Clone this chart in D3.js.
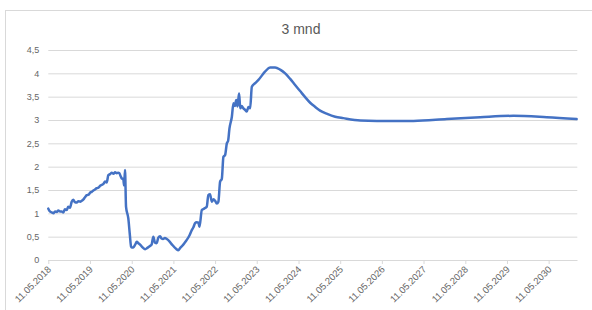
<!DOCTYPE html>
<html>
<head>
<meta charset="utf-8">
<script src="https://cdn.jsdelivr.net/npm/d3@7"></script>
<style>
    body { margin: 0; background: #fff; }
    svg { display: block; font-family: "Liberation Sans", Arial, sans-serif; }
</style>
</head>
<body>
<svg id="chart" width="592" height="310"></svg>
<script>
    // 3 mnd rente, historikk + forward
    var dates = [
        "2018-05-11", "2018-05-25", "2018-06-10", "2018-06-25", "2018-07-09", "2018-07-24",
        "2018-08-07", "2018-08-22", "2018-09-05", "2018-09-20", "2018-10-04", "2018-10-19",
        "2018-11-02", "2018-11-17", "2018-12-02", "2018-12-16", "2018-12-30", "2019-01-15",
        "2019-01-30", "2019-02-14", "2019-02-28", "2019-03-15", "2019-03-30", "2019-04-13",
        "2019-04-28", "2019-05-12", "2019-05-26", "2019-06-10", "2019-06-24", "2019-07-09",
        "2019-07-24", "2019-08-08", "2019-08-22", "2019-09-06", "2019-09-20", "2019-10-05",
        "2019-10-19", "2019-11-03", "2019-11-18", "2019-12-03", "2019-12-17", "2020-01-01",
        "2020-01-14", "2020-01-23", "2020-02-03", "2020-02-13", "2020-02-27", "2020-03-05",
        "2020-03-13", "2020-03-22", "2020-04-11", "2020-04-24", "2020-05-05", "2020-05-11",
        "2020-05-25", "2020-06-10", "2020-06-24", "2020-07-08", "2020-07-23", "2020-08-14",
        "2020-09-05", "2020-09-25", "2020-10-18", "2020-11-01", "2020-11-16", "2020-12-01",
        "2020-12-15", "2020-12-30", "2021-01-14", "2021-01-27", "2021-02-09", "2021-02-25",
        "2021-03-14", "2021-04-06", "2021-04-29", "2021-06-03", "2021-06-23", "2021-07-10",
        "2021-07-26", "2021-08-15", "2021-09-05", "2021-09-27", "2021-10-19", "2021-11-02",
        "2021-11-17", "2021-12-01", "2021-12-16", "2021-12-25", "2022-01-15", "2022-02-04",
        "2022-02-27", "2022-03-13", "2022-03-28", "2022-04-12", "2022-04-28", "2022-05-11",
        "2022-05-26", "2022-06-09", "2022-06-24", "2022-07-09", "2022-07-23", "2022-08-07",
        "2022-08-22", "2022-09-02", "2022-09-14", "2022-10-05", "2022-10-19", "2022-11-01",
        "2022-11-12", "2022-11-23", "2022-12-01", "2022-12-08", "2022-12-17", "2022-12-30",
        "2023-01-14", "2023-01-28", "2023-02-13", "2023-02-27", "2023-03-14", "2023-03-29",
        "2023-04-27", "2023-05-26", "2023-07-24", "2023-09-05", "2023-10-19", "2023-12-02",
        "2024-01-15", "2024-02-28", "2024-04-11", "2024-05-25", "2024-07-08", "2024-08-21",
        "2024-10-04", "2024-11-16", "2025-01-17", "2025-03-28", "2025-06-07", "2025-11-03",
        "2026-03-29", "2027-02-12", "2027-12-01", "2028-09-18", "2029-07-06", "2030-04-24",
        "2031-01-11"
    ];
    var rates = [
        1.10, 1.04, 1.02, 1.00, 1.04, 1.03,
        1.06, 1.04, 1.04, 1.02, 1.09, 1.07,
        1.14, 1.12, 1.25, 1.29, 1.24, 1.23,
        1.26, 1.25, 1.27, 1.30, 1.35, 1.39,
        1.40, 1.44, 1.46, 1.49, 1.51, 1.54,
        1.55, 1.59, 1.61, 1.63, 1.68, 1.66,
        1.82, 1.84, 1.87, 1.85, 1.88, 1.86,
        1.87, 1.86, 1.80, 1.75, 1.73, 1.60,
        1.93, 1.14, 0.89, 0.55, 0.29, 0.27,
        0.27, 0.33, 0.39, 0.36, 0.33, 0.27,
        0.23, 0.26, 0.30, 0.33, 0.50, 0.37,
        0.36, 0.48, 0.51, 0.46, 0.45, 0.47,
        0.45, 0.40, 0.33, 0.24, 0.21, 0.26,
        0.30, 0.36, 0.43, 0.52, 0.64, 0.70,
        0.79, 0.81, 0.80, 0.71, 1.07, 1.10,
        1.14, 1.39, 1.41, 1.25, 1.30, 1.27,
        1.21, 1.25, 1.68, 1.74, 2.21, 2.25,
        2.50, 2.55, 2.82, 3.07, 3.36, 3.30,
        3.43, 3.29, 3.45, 3.57, 3.25, 3.30,
        3.25, 3.22, 3.18, 3.28, 3.25, 3.71,
        3.79, 3.86, 4.04, 4.125, 4.125, 4.08,
        4.00, 3.88, 3.75, 3.62, 3.49, 3.37,
        3.28, 3.20, 3.13, 3.07, 3.04, 2.99,
        2.98, 2.98, 3.02, 3.06, 3.09, 3.06,
        3.02
    ];
    var tickYears = [2018, 2019, 2020, 2021, 2022, 2023, 2024, 2025, 2026, 2027, 2028, 2029, 2030];
    var yTicks = [0, 0.5, 1, 1.5, 2, 2.5, 3, 3.5, 4, 4.5];
    var title = "3 mnd";

    (function() {
        'use strict';

        var parseDate = d3.timeParse("%Y-%m-%d");
        var data = dates.map(function(d, i) {
            return { date: parseDate(d), value: rates[i] };
        });

        var plotLeft = 48.3, plotRight = 577.3, plotTop = 50, plotBottom = 260;

        var x = d3.scaleTime()
            .domain([parseDate("2018-05-11"), parseDate("2031-01-17")])
            .range([plotLeft, plotRight]);
        var y = d3.scaleLinear()
            .domain([0, 4.5])
            .range([plotBottom, plotTop]);

        var svg = d3.select("#chart");

        // ramme
        svg.append("rect")
            .attr("x", 5.5).attr("y", 10.5)
            .attr("width", 620).attr("height", 330)
            .attr("fill", "none")
            .attr("stroke", "#d9d9d9");

        svg.append("text")
            .attr("x", 301).attr("y", 34)
            .attr("text-anchor", "middle")
            .attr("font-size", 14)
            .attr("fill", "#595959")
            .text(title);

        var fmtY = function(v) { return String(v).replace(".", ","); };

        // y-akse med gridlinjer
        var yAxis = d3.axisLeft(y)
            .tickValues(yTicks)
            .tickSize(-(plotRight - plotLeft))
            .tickPadding(9)
            .tickFormat(fmtY);
        var gy = svg.append("g")
            .attr("transform", "translate(" + plotLeft + ",0)")
            .call(yAxis);
        gy.select(".domain").remove();
        gy.selectAll("line").attr("stroke", "#d9d9d9");
        gy.selectAll("text")
            .attr("font-size", 9)
            .attr("fill", "#666")
            .attr("font-family", "Liberation Sans, Arial, sans-serif");

        // x-akse
        var tickDates = tickYears.map(function(yr) { return new Date(yr, 4, 11); });
        var xAxis = d3.axisBottom(x)
            .tickValues(tickDates)
            .tickSize(4)
            .tickFormat(d3.timeFormat("%d.%m.%Y"));
        var gx = svg.append("g")
            .attr("transform", "translate(0," + plotBottom + ")")
            .call(xAxis);
        gx.select(".domain").attr("stroke", "#d9d9d9").attr("d", "M" + plotLeft + ",0.5H" + plotRight);
        gx.selectAll("line").attr("stroke", "#d9d9d9");
        gx.selectAll("text")
            .attr("font-size", 9.5)
            .attr("fill", "#666")
            .attr("font-family", "Liberation Sans, Arial, sans-serif")
            .attr("text-anchor", "end")
            .attr("dy", null)
            .attr("y", 0)
            .attr("transform", "translate(3,10) rotate(-45)");

        var line = d3.line()
            .x(function(d) { return x(d.date); })
            .y(function(d) { return y(d.value); })
            .curve(d3.curveMonotoneX);

        svg.append("path")
            .datum(data)
            .attr("fill", "none")
            .attr("stroke", "#4472c4")
            .attr("stroke-width", 2.5)
            .attr("stroke-linejoin", "round")
            .attr("stroke-linecap", "round")
            .attr("d", line);
    })();
</script>
</body>
</html>
